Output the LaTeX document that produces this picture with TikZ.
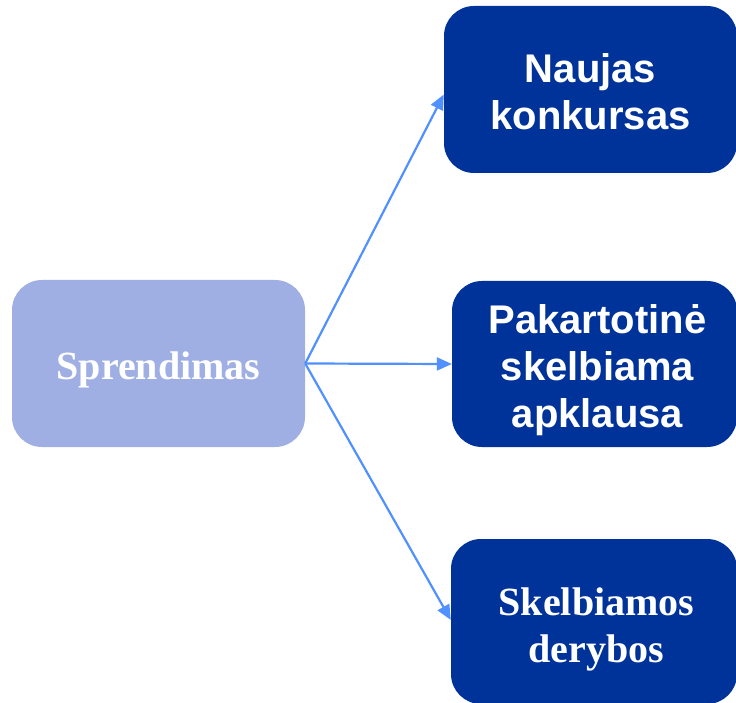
\documentclass[tikz,border=0pt]{standalone}
\usepackage{fontspec}
\newfontfamily\arialb{Liberation Sans}[BoldFont=* Bold]
\newfontfamily\timesb{Liberation Serif}[BoldFont=* Bold]
\usetikzlibrary{arrows.meta}
\definecolor{darkbox}{HTML}{003399}
\definecolor{lightbox}{HTML}{A0AFE3}
\definecolor{arrowblue}{HTML}{5090FF}
\tikzset{
  darkrect/.style={fill=darkbox, draw=none, rounded corners=30pt, inner sep=0pt},
  lightrect/.style={fill=lightbox, draw=none, rounded corners=30pt, inner sep=0pt},
  sanstext/.style={text=white, align=center, inner sep=0pt, font=\arialb\bfseries\fontsize{40}{47}\selectfont},
  seriftext/.style={text=white, align=center, inner sep=0pt, font=\timesb\bfseries\fontsize{40}{47}\selectfont},
  conn/.style={draw=arrowblue, line width=2.2pt, -{Triangle[length=15pt,width=13pt]}}
}
\begin{document}
\begin{tikzpicture}[x=1pt,y=-1pt]
\useasboundingbox (0,0) rectangle (736,703);
% boxes
\node[lightrect, minimum width=293pt, minimum height=167pt] (src) at (158.5,363.5) {};
\node[darkrect, minimum width=293pt, minimum height=167pt] (top) at (590.5,89.5) {};
\node[darkrect, minimum width=285pt, minimum height=166pt] (mid) at (594.5,364) {};
\node[darkrect, minimum width=286pt, minimum height=165pt] (bot) at (594,621.5) {};
% texts
\node[seriftext] (srct) at ([yshift=-6pt]src.center) {Sprendimas};
\node[sanstext] (topt) at ([yshift=-2pt]top.center) {Naujas\\konkursas};
\node[sanstext] (midt) at ([xshift=3pt,yshift=-6.5pt]mid.center) {Pakartotinė\\skelbiama\\apklausa};
\node[seriftext] (bott) at ([xshift=2.5pt,yshift=-8pt]bot.center) {Skelbiamos\\derybos};
% connectors
\coordinate (topin) at ([yshift=-5pt]top.west);
\coordinate (botin) at ([yshift=1.5pt]bot.west);
\draw[conn] (src.east) -- (topin);
\draw[conn] (src.east) -- (mid.west);
\draw[conn] (src.east) -- (botin);
\end{tikzpicture}
\end{document}
